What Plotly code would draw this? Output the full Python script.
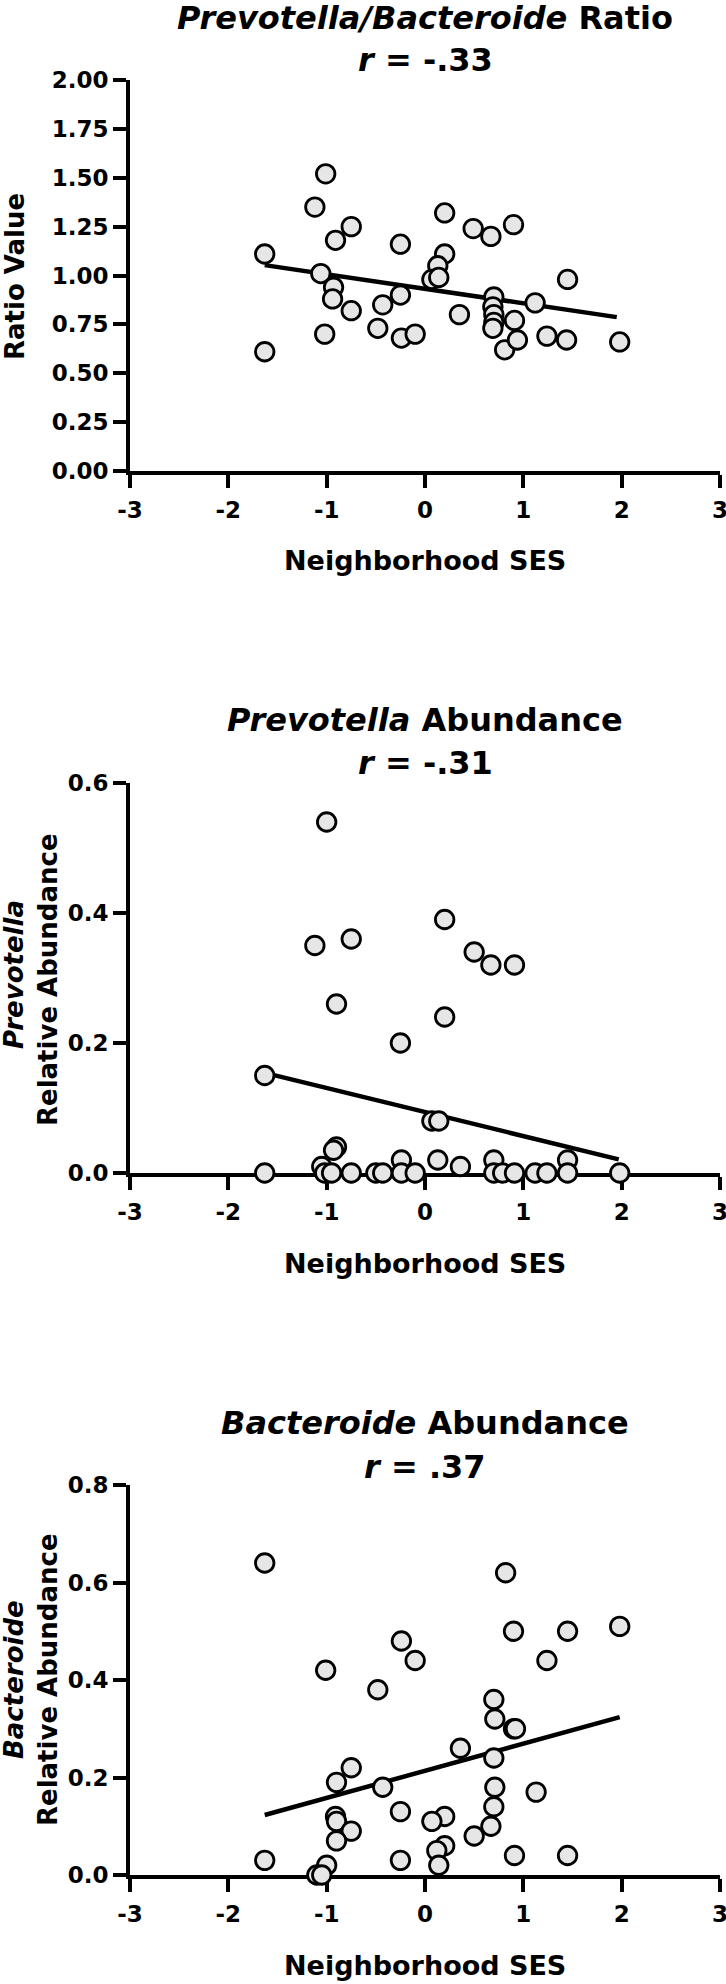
import plotly.graph_objects as go

W, H = 726, 1984

# ---------------- data ----------------
ratio_x = [-1.63, -1.63, -1.01, -1.12, -0.75, -0.91, -1.06, -0.93, -0.94, -0.75, -1.02,
           -0.43, -0.48, -0.25, -0.25, -0.24, -0.10, 0.20, 0.20, 0.13, 0.07, 0.14, 0.35,
           0.49, 0.67, 0.90, 0.70, 0.69, 0.70, 0.70, 0.69, 0.91, 0.81, 0.94, 1.12, 1.24,
           1.44, 1.45, 1.98]
ratio_y = [1.11, 0.61, 1.52, 1.35, 1.25, 1.18, 1.01, 0.94, 0.88, 0.82, 0.70,
           0.85, 0.73, 0.90, 1.16, 0.68, 0.70, 1.32, 1.11, 1.05, 0.98, 0.99, 0.80,
           1.24, 1.20, 1.26, 0.89, 0.84, 0.80, 0.76, 0.73, 0.77, 0.62, 0.67, 0.86, 0.69,
           0.67, 0.98, 0.66]
ratio_fit_x = [-1.63, 1.95]
ratio_fit_y = [1.053, 0.787]

prev_x = [-1.00, -1.12, -0.75, 0.20, 0.50, 0.67, 0.91, -0.90, 0.20, -0.25, -1.63,
          0.07, 0.14, -0.90, -0.93, -1.05, -0.24, 0.13, 0.36, 0.70, 1.45,
          -1.63, -1.02, -0.95, -0.75, -0.50, -0.43, -0.24, -0.10, 0.70, 0.79, 0.91,
          1.12, 1.24, 1.45, 1.98]
prev_y = [0.54, 0.35, 0.36, 0.39, 0.34, 0.32, 0.32, 0.26, 0.24, 0.20, 0.15,
          0.08, 0.08, 0.04, 0.035, 0.01, 0.02, 0.02, 0.01, 0.02, 0.02,
          0.0, 0.0, 0.0, 0.0, 0.0, 0.0, 0.0, 0.0, 0.0, 0.0, 0.0,
          0.0, 0.0, 0.0, 0.0]
prev_fit_x = [-1.63, 1.97]
prev_fit_y = [0.154, 0.021]

bact_x = [-1.63, 0.82, 0.90, 1.45, 1.98, -0.24, -0.10, 1.24, -1.01, -0.48, 0.70,
          0.71, 0.90, 0.92, 0.36, 0.70, -0.75, -0.90, -0.43, 0.71, 1.13, 0.70,
          -0.25, -0.91, -0.90, 0.20, 0.07, 0.67, -0.75, 0.50, -0.90, 0.20, 0.12,
          0.91, 1.45, -0.25, -1.63, -1.00, 0.14, -1.10, -1.05]
bact_y = [0.64, 0.62, 0.50, 0.50, 0.51, 0.48, 0.44, 0.44, 0.42, 0.38, 0.36,
          0.32, 0.30, 0.30, 0.26, 0.24, 0.22, 0.19, 0.18, 0.18, 0.17, 0.14,
          0.13, 0.12, 0.11, 0.12, 0.11, 0.10, 0.09, 0.08, 0.07, 0.06, 0.05,
          0.04, 0.04, 0.03, 0.03, 0.02, 0.02, 0.0, 0.0]
bact_fit_x = [-1.63, 1.98]
bact_fit_y = [0.123, 0.324]

x_tickvals = [-3, -2, -1, 0, 1, 2, 3]
x_ticktext = ["-3", "-2", "-1", "0", "1", "2", "3"]
ratio_ticks = [0, 0.25, 0.5, 0.75, 1.0, 1.25, 1.5, 1.75, 2.0]
prev_ticks = [0, 0.2, 0.4, 0.6]
bact_ticks = [0, 0.2, 0.4, 0.6, 0.8]

# ---------------- layout helpers ----------------
FONT = "DejaVu Sans"
def px(x):
    return x / W
def py(y):
    return 1 - y / H

x_dom = [px(130), px(720)]
panels = [
    dict(x=ratio_x, y=ratio_y, fx=ratio_fit_x, fy=ratio_fit_y, ticks=ratio_ticks, fmt=".2f",
         rng=[0, 2], top=80, bot=471),
    dict(x=prev_x, y=prev_y, fx=prev_fit_x, fy=prev_fit_y, ticks=prev_ticks, fmt=".1f",
         rng=[0, 0.6], top=783, bot=1173),
    dict(x=bact_x, y=bact_y, fx=bact_fit_x, fy=bact_fit_y, ticks=bact_ticks, fmt=".1f",
         rng=[0, 0.8], top=1485, bot=1875),
]

fig = go.Figure()
layout = dict(width=W, height=H, margin=dict(l=0, r=0, t=0, b=0, autoexpand=False),
              plot_bgcolor="white", paper_bgcolor="white", showlegend=False)

axis_common = dict(showline=True, linewidth=4, linecolor="black", ticks="outside",
                   ticklen=13, tickwidth=4, tickcolor="black", showgrid=False,
                   zeroline=False, layer="below traces", ticklabeloverflow="allow",
                   tickfont=dict(family=FONT, size=23, color="black", weight="bold"))

for i, p in enumerate(panels, start=1):
    xa = "x" if i == 1 else f"x{i}"
    ya = "y" if i == 1 else f"y{i}"
    fig.add_trace(go.Scatter(x=p["fx"], y=p["fy"], mode="lines", xaxis=xa, yaxis=ya,
                             line=dict(color="black", width=4.5), cliponaxis=False))
    fig.add_trace(go.Scatter(x=p["x"], y=p["y"], mode="markers", xaxis=xa, yaxis=ya,
                             cliponaxis=False,
                             marker=dict(size=18.5, color="#e6e6e6",
                                         line=dict(color="black", width=2.8))))
    layout["xaxis" if i == 1 else f"xaxis{i}"] = dict(
        axis_common, domain=x_dom, range=[-3, 3], tickvals=x_tickvals, ticktext=x_ticktext,
        anchor=ya, ticklabelstandoff=2)
    layout["yaxis" if i == 1 else f"yaxis{i}"] = dict(
        axis_common, domain=[py(p["bot"]), py(p["top"])], range=p["rng"],
        tickvals=p["ticks"], tickformat=p["fmt"], anchor=xa)

fig.update_layout(**layout)

ann = []
def text(x, y, s, size, angle=0):
    ann.append(dict(x=px(x), y=py(y), xref="paper", yref="paper", text=s, showarrow=False,
                    xanchor="center", yanchor="middle", textangle=angle,
                    font=dict(family=FONT, size=size, color="black", weight="bold")))

CX = 425
# titles
text(CX, 18, "<i>Prevotella/Bacteroide</i> Ratio", 32)
text(CX, 60, "<i>r</i> = -.33", 32)
text(CX, 720, "<i>Prevotella</i> Abundance", 32)
text(CX, 763, "<i>r</i> = -.31", 32)
text(CX, 1423, "<i>Bacteroide</i> Abundance", 32)
text(CX, 1467, "<i>r</i> = .37", 32)
# x titles
text(CX, 560, "Neighborhood SES", 27)
text(CX, 1263, "Neighborhood SES", 27)
text(CX, 1965, "Neighborhood SES", 27)
# y titles
text(15, 277, "Ratio Value", 26, -90)
text(14, 975, "<i>Prevotella</i>", 26, -90)
text(48, 980, "Relative Abundance", 26, -90)
text(14, 1680, "<i>Bacteroide</i>", 26, -90)
text(48, 1680, "Relative Abundance", 26, -90)

fig.update_layout(annotations=ann)
fig.write_html("out.html", config={"displayModeBar": False},
               post_script="document.body.style.margin='0';document.body.style.overflow='hidden';")
